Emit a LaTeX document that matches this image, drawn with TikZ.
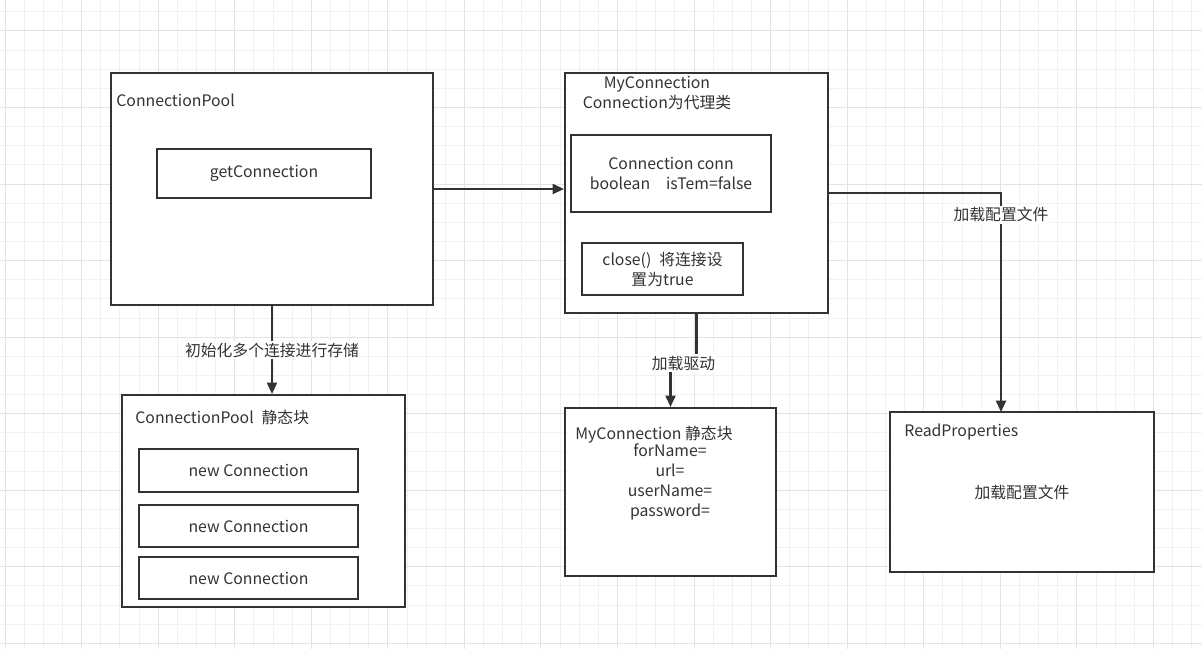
\documentclass[tikz,border=0pt]{standalone}
\usepackage{fontspec}
\setmainfont{Noto Sans CJK SC}
\usepackage{tikz}
\usetikzlibrary{arrows.meta}
\definecolor{ink}{HTML}{333333}
\definecolor{gridminor}{HTML}{F1F1F1}
\definecolor{gridmajor}{HTML}{E3E3E3}

\begin{document}
\begin{tikzpicture}[x=0.02cm, y=-0.02cm,
    font=\fontsize{9}{11.3}\selectfont, text=ink,
    box/.style={draw=ink, line width=1.2pt, fill=white, inner sep=0pt},
    arr/.style={draw=ink, line width=1.2pt, -{Triangle[length=6.5pt, width=5.7pt]}},
    lbl/.style={fill=white, inner sep=1pt},
    tag/.style={anchor=west, inner sep=0pt}]

    \useasboundingbox (0,0) rectangle (1202,649);
    \fill[white] (0,0) rectangle (1202,649);

    % grid
    \foreach \k in {0,...,62}
        \draw[gridminor, line width=0.5pt] ({5+19.14*\k},0) -- ({5+19.14*\k},649);
    \foreach \k in {0,...,34}
        \draw[gridminor, line width=0.5pt] (0,{11.7+19.14*\k}) -- (1202,{11.7+19.14*\k});
    \foreach \k in {0,4,...,60}
        \draw[gridmajor, line width=0.5pt] ({5+19.14*\k},0) -- ({5+19.14*\k},649);
    \foreach \k in {1,5,...,33}
        \draw[gridmajor, line width=0.5pt] (0,{11.7+19.14*\k}) -- (1202,{11.7+19.14*\k});

    % pool
    \node[box, minimum width=6.44cm, minimum height=4.64cm] (pool) at (272,189) {};
    \node[tag] (pooltag) at (116,100) {ConnectionPool};
    \node[box, minimum width=4.28cm, minimum height=0.98cm] (getconn) at (264,173.5) {getConnection};

    % pool static block
    \node[box, minimum width=5.66cm, minimum height=4.24cm] (poolstatic) at (263.5,501) {};
    \node[tag] (poolstatictag) at (135,417) {ConnectionPool\enspace 静态块};
    \node[box, minimum width=4.38cm, minimum height=0.86cm] (new1) at (248.5,470.5) {new Connection};
    \node[box, minimum width=4.38cm, minimum height=0.84cm] (new2) at (248.5,526) {new Connection};
    \node[box, minimum width=4.38cm, minimum height=0.84cm] (new3) at (248.5,578) {new Connection};

    % proxy
    \node[box, minimum width=5.26cm, minimum height=4.8cm] (myconn) at (696.5,193) {};
    \node[align=center, inner sep=0pt] (myconntag) at (657,93) {MyConnection\\Connection为代理类};
    \node[box, minimum width=4cm, minimum height=1.54cm, align=center] (fields) at (671,173.5)
        {Connection conn\\boolean\quad isTem=false};
    \node[box, minimum width=3.22cm, minimum height=1.04cm, align=center] (close) at (662.5,269)
        {close()\enspace 将连接设\\置为true};

    % proxy static block
    \node[box, minimum width=4.22cm, minimum height=3.36cm] (myconnstatic) at (670.5,492) {};
    \node[tag] (myconnstatictag) at (575,435) {MyConnection 静态块};
    \node[align=center, inner sep=0pt] (driver) at (670,482) {forName=\\url=\\userName=\\password=};

    % properties
    \node[box, minimum width=5.28cm, minimum height=3.2cm] (props) at (1022,492) {};
    \node[tag] (propstag) at (904,432) {ReadProperties};
    \node (propstext) at (1022,492) {加载配置文件};

    \coordinate (propsin) at (1001,412);

    \draw[arr] (pool) -- (pool -| myconn.west);
    \draw[arr] (pool.south) -- (pool.south |- poolstatic.north)
        node[lbl, midway] {初始化多个连接进行存储};
    \draw[arr] (myconn.south) -- ++(0,49) -| node[lbl, pos=0.25] {加载驱动} (myconnstatic.north);
    \draw[arr] (myconn.east) -| node[lbl, pos=0.55] {加载配置文件} (propsin);
\end{tikzpicture}
\end{document}
